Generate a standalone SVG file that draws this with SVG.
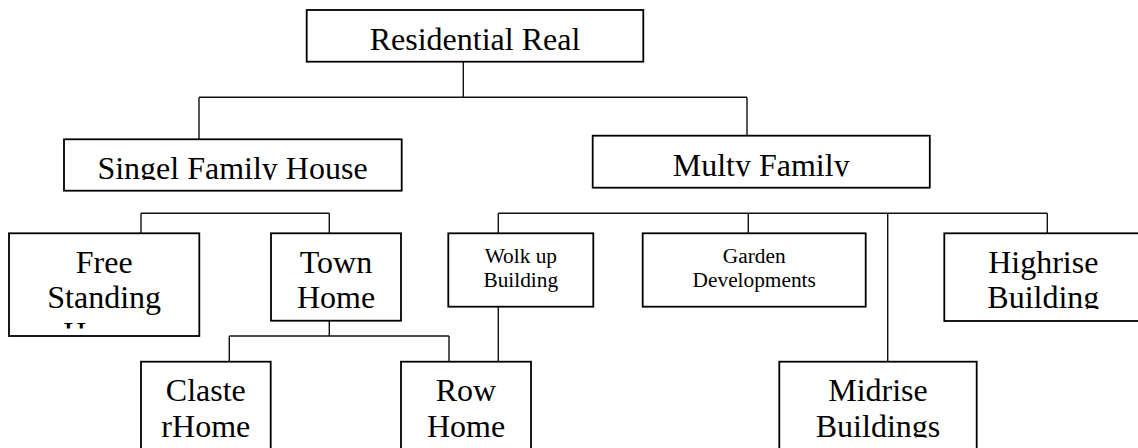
<svg xmlns="http://www.w3.org/2000/svg" width="1138" height="448" viewBox="0 0 1138 448">
<style>
.box{fill:#fff;stroke:#000;stroke-width:1.8}
.con{fill:none;stroke:#111;stroke-width:1.4}
.big{font-family:"Liberation Serif","Times New Roman",serif;font-size:32px;fill:#000;text-anchor:middle}
.small{font-family:"Liberation Serif","Times New Roman",serif;font-size:21.33px;fill:#000;text-anchor:middle}
</style>
<defs>
<clipPath id="c-singel"><rect x="64" y="139" width="338" height="41"/></clipPath>
<clipPath id="c-multy"><rect x="593" y="136" width="337" height="40.5"/></clipPath>
<clipPath id="c-free"><rect x="9" y="233" width="190" height="95.5"/></clipPath>
<clipPath id="c-high"><rect x="944" y="233" width="200" height="76"/></clipPath>
<clipPath id="c-mid"><rect x="779" y="362" width="198" height="75.5"/></clipPath>
</defs>
<g id="connectors">
<path class="con" d="M463.3,62 V97.3 M199,97.3 H747 M199,97.3 V139.3 M747,97.3 V136"/>
<path class="con" d="M141,213.3 H329.3 M141,213.3 V233.3 M329.3,213.3 V233.3"/>
<path class="con" d="M498.3,213.3 H1047.3 M498.3,213.3 V233.3 M748.3,213.3 V233.3 M887.7,213.3 V361.7 M1047.3,213.3 V233.3"/>
<path class="con" d="M329.3,320.7 V336 M229.3,336 H449 M229.3,336 V361.7 M449,336 V361.7"/>
<path class="con" d="M498.3,306.7 V361.7"/>
</g>
<g id="node-residential">
<rect class="box" x="306.7" y="10" width="336.6" height="51.7"/>
<text class="big" x="475" y="50">Residential Real</text>
</g>
<g id="node-singel">
<rect class="box" x="64" y="139.3" width="337.7" height="51.4"/>
<text class="big" x="232.5" y="179.3" clip-path="url(#c-singel)">Singel Family House</text>
</g>
<g id="node-multy">
<rect class="box" x="592.7" y="135.7" width="337.1" height="52"/>
<text class="big" x="761.2" y="175.7" clip-path="url(#c-multy)">Multy Family</text>
</g>
<g id="node-free">
<rect class="box" x="9" y="233.3" width="190.3" height="102.7"/>
<text class="big" clip-path="url(#c-free)"><tspan x="104.2" y="272.7">Free</tspan><tspan x="104.2" y="308.3">Standing</tspan><tspan x="104.2" y="344">House</tspan></text>
</g>
<g id="node-town">
<rect class="box" x="271" y="233.3" width="130" height="87.4"/>
<text class="big"><tspan x="336" y="272.7">Town</tspan><tspan x="336" y="308.3">Home</tspan></text>
</g>
<g id="node-claste">
<rect class="box" x="141" y="361.7" width="129.7" height="100"/>
<text class="big"><tspan x="205.8" y="401">Claste</tspan><tspan x="205.8" y="437.3">rHome</tspan></text>
</g>
<g id="node-row">
<rect class="box" x="401" y="361.7" width="130" height="100"/>
<text class="big"><tspan x="466" y="400.5">Row</tspan><tspan x="466" y="437.3">Home</tspan></text>
</g>
<g id="node-wolk">
<rect class="box" x="448.3" y="233.3" width="145" height="73.4"/>
<text class="small"><tspan x="520.8" y="262.7">Wolk up</tspan><tspan x="520.8" y="287.3">Building</tspan></text>
</g>
<g id="node-garden">
<rect class="box" x="642.7" y="233.3" width="223" height="73.4"/>
<text class="small"><tspan x="754.2" y="262.7">Garden</tspan><tspan x="754.2" y="287.3">Developments</tspan></text>
</g>
<g id="node-midrise">
<rect class="box" x="779.3" y="361.7" width="197.4" height="100"/>
<text class="big" clip-path="url(#c-mid)"><tspan x="878" y="401">Midrise</tspan><tspan x="878" y="436.7">Buildings</tspan></text>
</g>
<g id="node-highrise">
<rect class="box" x="944.3" y="233.3" width="198" height="87.7"/>
<text class="big" clip-path="url(#c-high)"><tspan x="1043.3" y="272.7">Highrise</tspan><tspan x="1043.3" y="308.3">Building</tspan></text>
</g>
</svg>
